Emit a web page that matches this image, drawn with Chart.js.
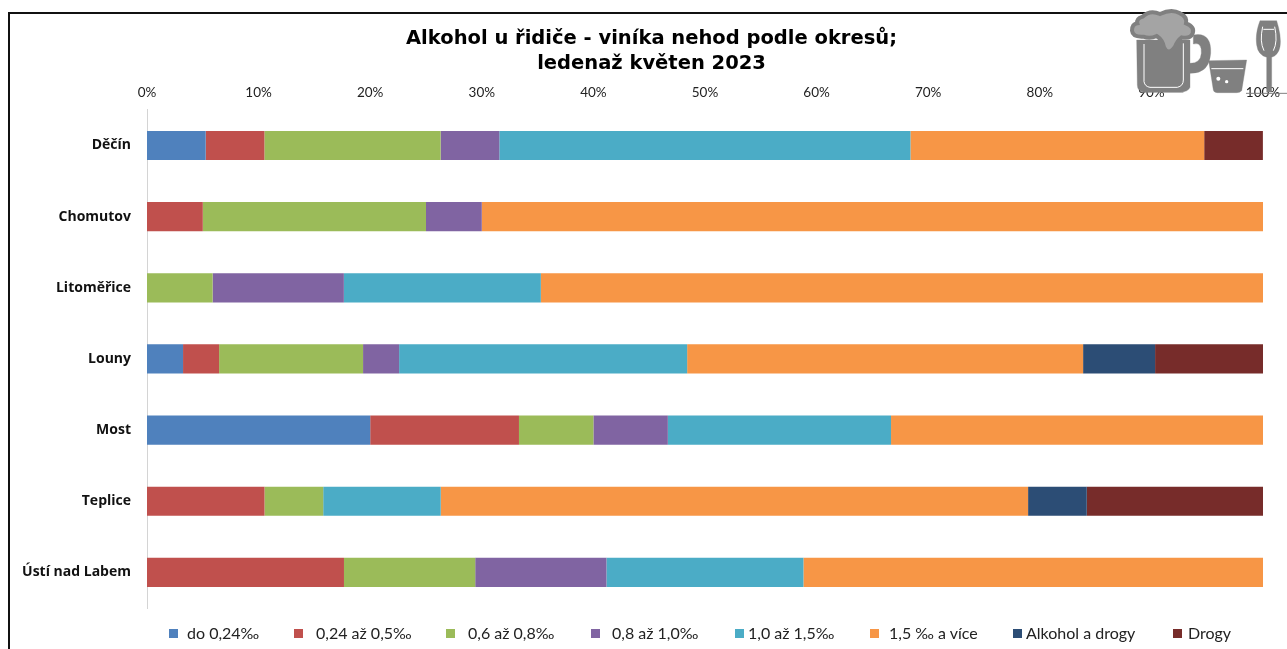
<!DOCTYPE html>
<html lang="cs">
<head>
<meta charset="utf-8">
<title>Alkohol u řidiče</title>
<script src="https://cdn.jsdelivr.net/npm/chart.js@4"></script>
<style>
  html,body{margin:0;padding:0;background:#fff;overflow:hidden}
  #wrap{position:relative;width:1287px;height:649px}
  #chart{position:absolute;left:0;top:0}
  #frame{position:absolute;left:8px;top:12px;right:-4px;bottom:-4px;border:2px solid #111}
  #legend span{position:absolute;top:623px;font:16px Lato,sans-serif;color:#222;white-space:pre}
  #legend i{position:absolute;top:629px;width:9px;height:9px}
  #icons{position:absolute;left:1100px;top:0}
</style>
</head>
<body>
<div id="wrap">
  <canvas id="chart" width="1287" height="649"></canvas>
  <div id="frame"></div>
  <div id="legend"></div>
  <svg id="icons" width="187" height="120" viewBox="0 0 561 360">
    <g fill="#808080" stroke="#808080">
      <path d="M280 105 Q335 95 332 160 Q328 222 270 220 L270 190 Q302 190 304 160 Q306 125 280 132 Z"/>
      <path d="M110 120 L270 120 L270 262 Q265 276 240 276 L135 276 Q112 276 112 255 Z"/>
      <path d="M128 50 Q150 28 180 42 Q215 25 240 40 Q262 50 258 70 Q285 80 278 100 Q270 118 245 112 Q232 122 225 140 Q205 168 192 142 Q188 120 170 108 Q150 118 130 110 Q98 112 96 92 Q96 72 112 70 Q108 56 128 50 Z" fill="#a4a4a4" stroke-width="12"/>
      <path d="M326 182 L440 180 L425 272 Q420 278 410 278 L352 278 Q342 278 340 270 Z"/>
      <path d="M480 62 L530 62 Q545 110 540 140 Q535 165 515 172 L515 276 L500 276 L500 172 Q474 165 470 135 Q465 100 480 62 Z"/>
    </g>
    <g fill="none" stroke="#fff" stroke-width="3">
      <path d="M132 132 L132 245 Q135 260 150 262 L232 262 Q250 258 250 240 L250 130"/>
      <path d="M334 206 L430 206"/>
      <path d="M490 88 L522 88"/>
      <path d="M488 80 Q478 125 492 152"/>
      <path d="M524 80 Q534 125 520 152"/>
    </g>
    <circle cx="355" cy="236" r="6" fill="#fff"/>
    <circle cx="380" cy="245" r="5" fill="#fff"/>
    <path d="M120 276 L250 276 M438 280 L561 280" stroke="#808080" stroke-width="3"/>
  </svg>
</div>
<script>
const okresy = ['Děčín','Chomutov','Litoměřice','Louny','Most','Teplice','Ústí nad Labem'];
const kategorie = ['do 0,24‰','0,24 až 0,5‰','0,6 až 0,8‰','0,8 až 1,0‰','1,0 až 1,5‰','1,5 ‰ a více','Alkohol a drogy','Drogy'];

const do024     = [5.26, 0, 0, 3.23, 20, 0, 0];
const od024     = [5.26, 5, 0, 3.23, 13.33, 10.53, 17.65];
const od06      = [15.79, 20, 5.88, 12.9, 6.67, 5.26, 11.76];
const od08      = [5.26, 5, 11.76, 3.23, 6.67, 0, 11.76];
const od10      = [36.84, 0, 17.65, 25.81, 20, 10.53, 17.65];
const od15      = [26.32, 70, 64.71, 35.48, 33.33, 52.63, 41.18];
const alkDrogy  = [0, 0, 0, 6.45, 0, 5.26, 0];
const drogy     = [5.26, 0, 0, 9.68, 0, 15.79, 0];

const hodnoty = [do024, od024, od06, od08, od10, od15, alkDrogy, drogy];
const barvy = ['#4F81BD','#C0504D','#9BBB59','#8064A2','#4BACC6','#F79646','#2C4D75','#772C2A'];

// the legend in the original is spaced unevenly, so it is placed by hand
const legendaZnacka = [169, 294, 446, 591, 735, 870, 1013, 1173];
const legendaText   = [187, 316, 468, 612, 748, 889, 1026, 1188];
const legenda = document.getElementById('legend');
kategorie.forEach((k,i)=>{
  const z = document.createElement('i');
  z.style.left = legendaZnacka[i]+'px';
  z.style.background = barvy[i];
  const t = document.createElement('span');
  t.style.left = legendaText[i]+'px';
  t.textContent = k;
  legenda.append(z,t);
});

// left padding only moves the title; the long label must not be clipped by it
const bezOrezu = {
  id:'bezOrezu',
  beforeDraw(chart){ chart.scales.y.left = 0; }
};

new Chart(document.getElementById('chart'), {
  type:'bar',
  plugins:[bezOrezu],
  data:{
    labels: okresy,
    datasets: kategorie.map((k,i)=>({
      label:k,
      data:hodnoty[i],
      backgroundColor:barvy[i],
      borderWidth:0,
      categoryPercentage:1,
      barPercentage:0.41
    }))
  },
  options:{
    indexAxis:'y',
    responsive:false,
    animation:false,
    devicePixelRatio:1,
    layout:{padding:{left:40,right:24,top:0,bottom:41}},
    plugins:{
      legend:{display:false},
      tooltip:{enabled:false},
      title:{
        display:true,
        text:['Alkohol u řidiče - viníka nehod podle okresů;','ledenaž květen 2023'],
        color:'#000',
        font:{family:'"DejaVu Sans"',size:19.5,weight:'bold',lineHeight:1.28},
        padding:{top:26,bottom:0}
      }
    },
    scales:{
      x:{
        position:'top',
        stacked:true,
        min:0,max:100,
        grid:{display:false,drawTicks:false},
        border:{display:false},
        ticks:{
          stepSize:10,
          padding:9,
          maxRotation:0,
          color:'#222',
          font:{family:'Lato',size:13.5},
          callback:v=>v+'%'
        },
        afterFit(s){ s.height = 34; s.paddingRight = 0; s.paddingLeft = 0; }
      },
      y:{
        stacked:true,
        grid:{display:false,drawTicks:false},
        border:{color:'#d4d4d4',width:1},
        ticks:{
          padding:16,
          color:'#111',
          font:{family:'"Open Sans"',size:14,weight:'bold'}
        },
        afterFit(s){ s.width = 107; }
      }
    }
  }
});
</script>
</body>
</html>
